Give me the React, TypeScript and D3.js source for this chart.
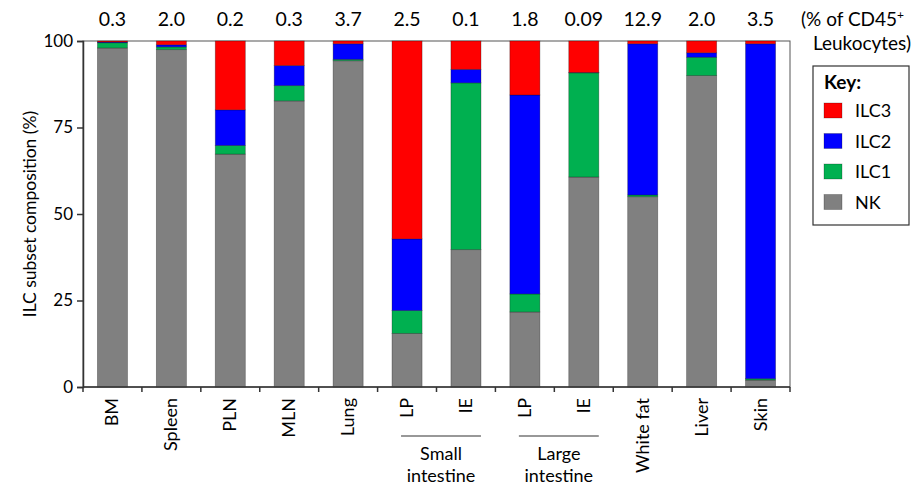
import React, { useEffect, useRef } from "react";
import * as d3 from "d3";

const tissues = ["BM", "Spleen", "PLN", "MLN", "Lung", "LP", "IE", "LP2", "IE2", "White fat", "Liver", "Skin"];
const tissueLabels = ["BM", "Spleen", "PLN", "MLN", "Lung", "LP", "IE", "LP", "IE", "White fat", "Liver", "Skin"];
const leukoPct = ["0.3", "2.0", "0.2", "0.3", "3.7", "2.5", "0.1", "1.8", "0.09", "12.9", "2.0", "3.5"];

// subset composition, % (stacked bottom to top: NK, ILC1, ILC2, ILC3)
const nk = [98, 97.5, 67.3, 82.7, 94.3, 15.5, 39.7, 21.7, 60.7, 55, 90, 2];
const ilc1 = [1.5, 0.8, 2.5, 4.4, 0.4, 6.6, 48.2, 5.2, 30.1, 0.5, 5.3, 0.4];
const ilc2 = [0.2, 0.6, 10.3, 5.8, 4.5, 20.7, 3.9, 57.5, 0.1, 43.7, 1.3, 96.8];
const ilc3 = [0.3, 1.1, 19.9, 7.1, 0.8, 57.2, 8.2, 15.6, 9.1, 0.8, 3.4, 0.8];

const subsets = ["NK", "ILC1", "ILC2", "ILC3"];
const legendOrder = ["ILC3", "ILC2", "ILC1", "NK"];
const yTicks = [0, 25, 50, 75, 100];
const groups = [
  { from: "LP", to: "IE", lines: ["Small", "intestine"] },
  { from: "LP2", to: "IE2", lines: ["Large", "intestine"] },
];

const colors: Record<string, string> = {
  NK: "#808080",
  ILC1: "#00b050",
  ILC2: "#0000ff",
  ILC3: "#ff0000",
};

const font = "Lato, 'Open Sans', sans-serif";

const App: React.FC = () => {
  const svgRef = useRef<SVGSVGElement>(null);

  useEffect(() => {
    const width = 915;
    const height = 489;
    const left = 83;
    const right = 790;
    const top = 41;
    const bottom = 387;

    const svg = d3.select(svgRef.current);
    svg.selectAll("*").remove();
    svg.attr("width", width).attr("height", height);

    const x = d3.scaleBand().domain(tissues).range([left, right]).paddingInner(0.49).paddingOuter(0.245);
    const y = d3.scaleLinear().domain([0, 100]).range([bottom, top]);
    const cx = (t: string) => x(t)! + x.bandwidth() / 2;

    const rows = tissues.map((t, i) => ({ tissue: t, NK: nk[i], ILC1: ilc1[i], ILC2: ilc2[i], ILC3: ilc3[i] }));
    const stack = d3.stack<any>().keys(subsets);
    const series = stack(rows);

    // plot frame
    svg
      .append("rect")
      .attr("x", left)
      .attr("y", top)
      .attr("width", right - left)
      .attr("height", bottom - top)
      .attr("fill", "none")
      .attr("stroke", "#555")
      .attr("stroke-width", 1);

    // bars
    svg
      .append("g")
      .selectAll("g")
      .data(series)
      .enter()
      .append("g")
      .attr("fill", (d) => colors[d.key])
      .selectAll("rect")
      .data((d) => d)
      .enter()
      .append("rect")
      .attr("x", (d) => x(d.data.tissue)!)
      .attr("width", x.bandwidth())
      .attr("y", (d) => y(d[1]))
      .attr("height", (d) => y(d[0]) - y(d[1]))
      .attr("stroke", "rgba(0,0,0,0.35)")
      .attr("stroke-width", 0.8);

    // y axis
    const yAxis = svg
      .append("g")
      .attr("transform", `translate(${left},0)`)
      .call(d3.axisLeft(y).tickValues(yTicks).tickSize(6).tickPadding(4));
    yAxis.select(".domain").attr("stroke", "#333").attr("stroke-width", 1.5);
    yAxis.selectAll(".tick line").attr("stroke", "#333").attr("stroke-width", 1.5);
    yAxis
      .selectAll(".tick text")
      .attr("font-family", font)
      .attr("font-size", 17)
      .attr("fill", "#000");

    // x axis baseline + ticks between bars
    const xg = svg.append("g");
    xg.append("line")
      .attr("x1", left)
      .attr("x2", right)
      .attr("y1", bottom)
      .attr("y2", bottom)
      .attr("stroke", "#333")
      .attr("stroke-width", 1.5);
    const step = x.step();
    const boundaries = d3.range(tissues.length + 1).map((i) => left + i * step);
    xg.selectAll(".xtick")
      .data(boundaries)
      .enter()
      .append("line")
      .attr("x1", (d) => d)
      .attr("x2", (d) => d)
      .attr("y1", bottom)
      .attr("y2", bottom + 5)
      .attr("stroke", "#333")
      .attr("stroke-width", 1.5);

    // rotated category labels
    xg.selectAll(".xlab")
      .data(tissues)
      .enter()
      .append("text")
      .attr("transform", (d) => `translate(${cx(d) + 6},${bottom + 11}) rotate(-90)`)
      .attr("text-anchor", "end")
      .attr("font-family", font)
      .attr("font-size", 18)
      .attr("fill", "#000")
      .text((_, i) => tissueLabels[i]);

    // group brackets
    groups.forEach((g) => {
      const x1 = cx(g.from) - 6;
      const x2 = cx(g.to) + 15;
      svg
        .append("line")
        .attr("x1", x1)
        .attr("x2", x2)
        .attr("y1", 436)
        .attr("y2", 436)
        .attr("stroke", "#333")
        .attr("stroke-width", 1.2);
      g.lines.forEach((l, j) => {
        svg
          .append("text")
          .attr("x", (x1 + x2) / 2)
          .attr("y", 460 + j * 22)
          .attr("text-anchor", "middle")
          .attr("font-family", font)
          .attr("font-size", 18)
          .attr("fill", "#000")
          .text(l);
      });
    });

    // top % of CD45+ labels
    svg
      .selectAll(".pct")
      .data(tissues)
      .enter()
      .append("text")
      .attr("x", (d) => cx(d))
      .attr("y", 26)
      .attr("text-anchor", "middle")
      .attr("font-family", font)
      .attr("font-size", 19.5)
      .attr("fill", "#000")
      .text((_, i) => leukoPct[i]);

    const note = svg
      .append("text")
      .attr("x", 801)
      .attr("y", 26)
      .attr("font-family", font)
      .attr("font-size", 19)
      .attr("fill", "#000");
    note.append("tspan").text("(% of CD45");
    note.append("tspan").attr("dy", -7).attr("font-size", 12).text("+");
    svg
      .append("text")
      .attr("x", 911)
      .attr("y", 50)
      .attr("text-anchor", "end")
      .attr("font-family", font)
      .attr("font-size", 19)
      .attr("fill", "#000")
      .text("Leukocytes)");

    // y title
    svg
      .append("text")
      .attr("transform", `translate(36,${(top + bottom) / 2}) rotate(-90)`)
      .attr("text-anchor", "middle")
      .attr("font-family", font)
      .attr("font-size", 17.5)
      .attr("fill", "#000")
      .text("ILC subset composition (%)");

    // legend
    const lg = svg.append("g");
    lg.append("rect")
      .attr("x", 813)
      .attr("y", 66)
      .attr("width", 96)
      .attr("height", 159)
      .attr("fill", "#fff")
      .attr("stroke", "#333")
      .attr("stroke-width", 1.2);
    lg.append("text")
      .attr("x", 824)
      .attr("y", 89)
      .attr("font-family", font)
      .attr("font-weight", "bold")
      .attr("font-size", 19)
      .attr("fill", "#000")
      .text("Key:");
    legendOrder.forEach((k, i) => {
      const yy = 103 + i * 30.5;
      lg.append("rect")
        .attr("x", 824)
        .attr("y", yy)
        .attr("width", 18)
        .attr("height", 15)
        .attr("fill", colors[k])
        .attr("stroke", "rgba(0,0,0,0.3)")
        .attr("stroke-width", 0.8);
      lg.append("text")
        .attr("x", 855)
        .attr("y", yy + 14)
        .attr("font-family", font)
        .attr("font-size", 18)
        .attr("fill", "#000")
        .text(k);
    });
  }, []);

  return <svg ref={svgRef} style={{ position: "absolute", left: 0, top: 0 }}></svg>;
};

export default App;
